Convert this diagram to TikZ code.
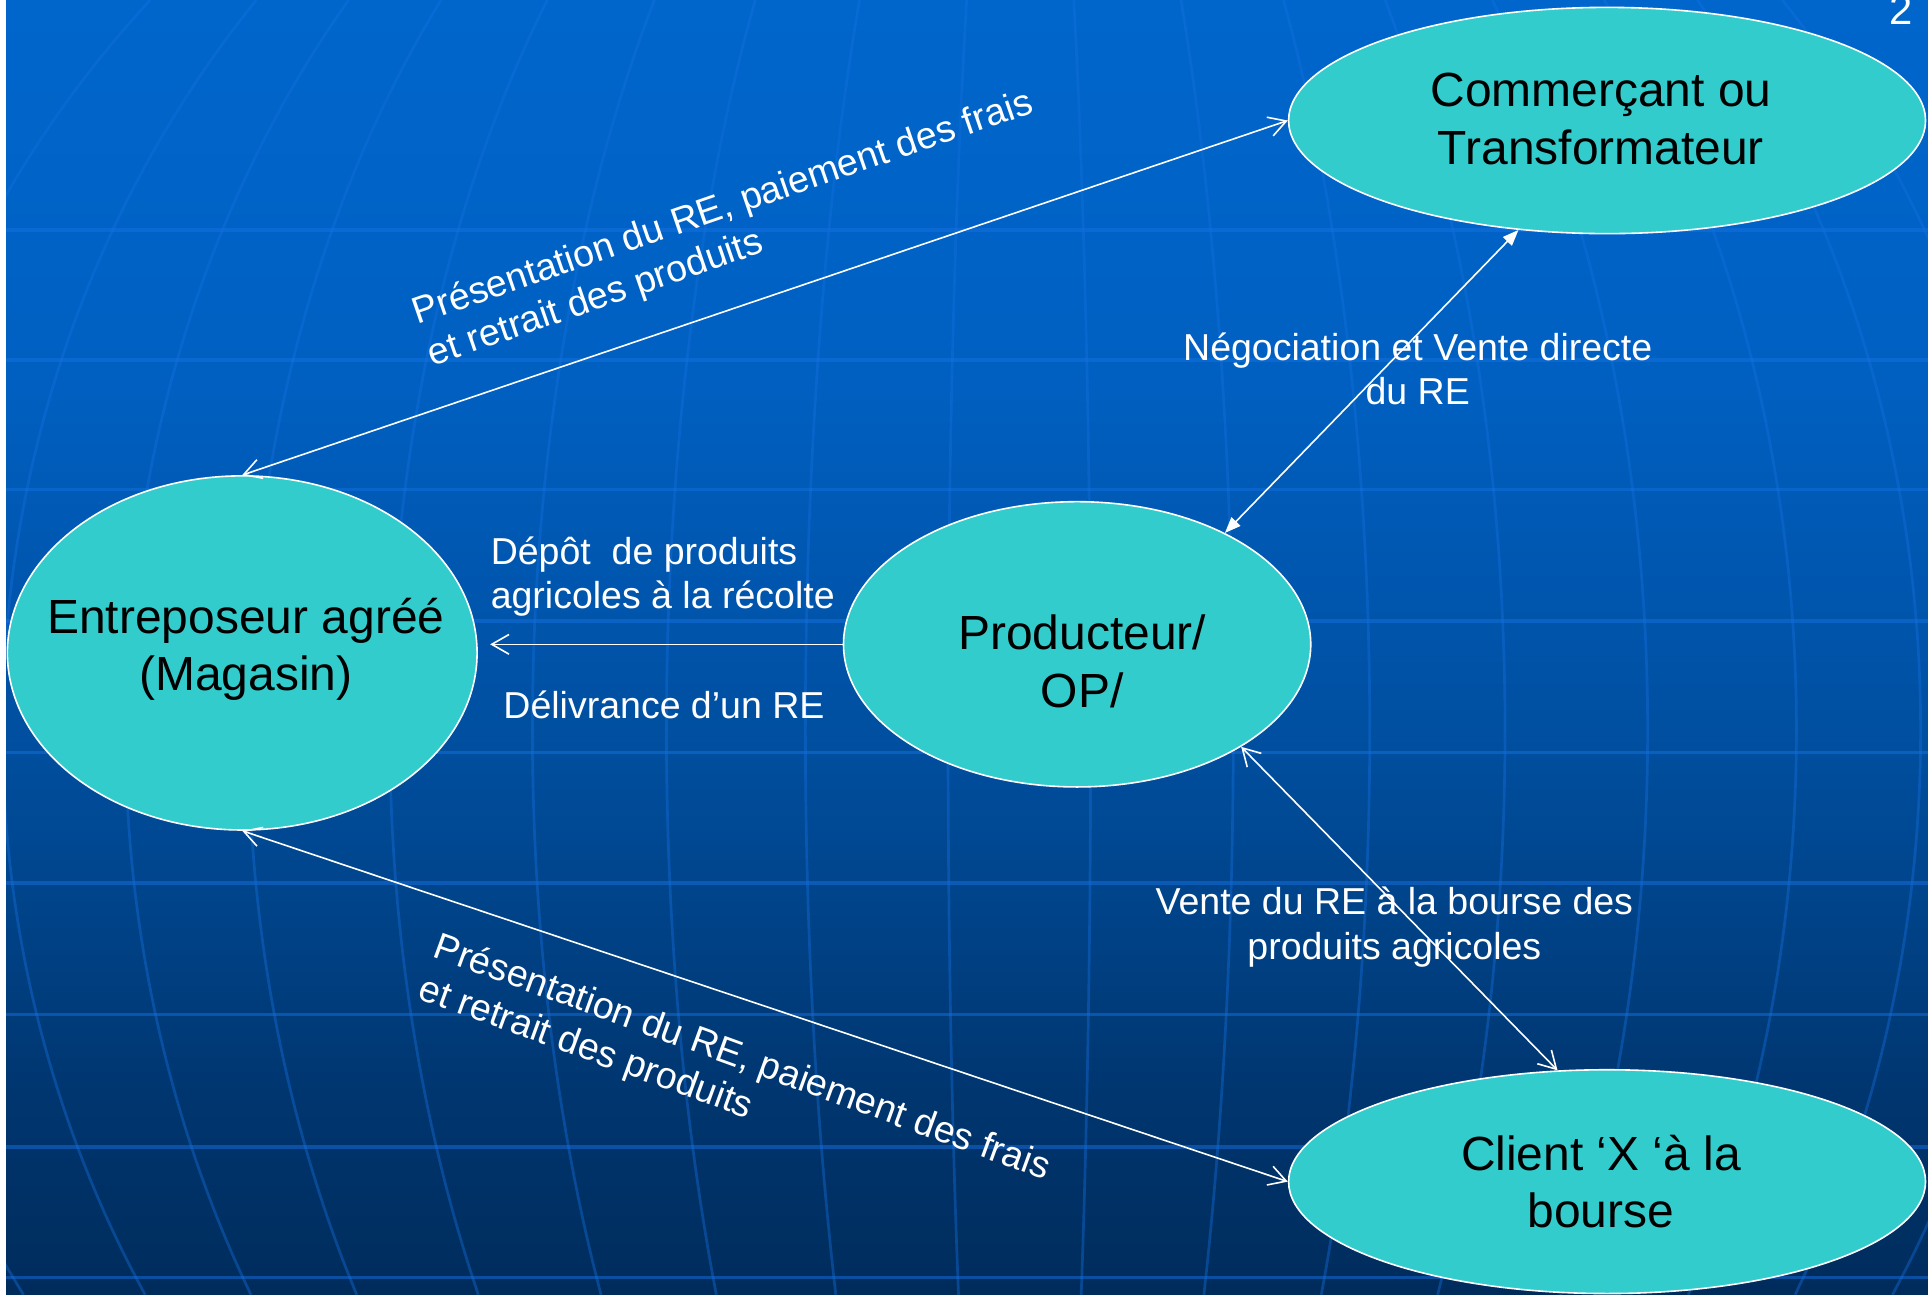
\documentclass[tikz,border=0pt]{standalone}
\usepackage{fontspec}
\setmainfont{Liberation Sans}
\usetikzlibrary{arrows.meta,shapes.geometric}
\definecolor{turq}{HTML}{33CCCC}
\definecolor{bgA}{HTML}{002C5C}
\definecolor{bgB}{HTML}{00356E}
\definecolor{bgC}{HTML}{004FA0}
\definecolor{bgD}{HTML}{0060C2}
\definecolor{bgE}{HTML}{0066CC}
\definecolor{gridcol}{HTML}{1570E0}
\pgfdeclareverticalshading{bgshade}{100bp}{color(0bp)=(bgA); color(25bp)=(bgA); color(32.3bp)=(bgB); color(46.5bp)=(bgC); color(60.8bp)=(bgD); color(75bp)=(bgE); color(100bp)=(bgE)}
\begin{document}
\begin{tikzpicture}[x=1pt,y=-1pt,
  ell/.style={ellipse, draw=white, line width=1.3pt, fill=turq, inner sep=0pt},
  mainlbl/.style={text=black, align=center, font=\fontsize{39}{47}\selectfont},
  edgelbl/.style={text=white, font=\fontsize{30.5}{36}\selectfont},
  conn/.style={draw=white, line width=1.3pt},
  barb/.tip={Straight Barb[length=14pt,width=16pt]},
  tri/.tip={Triangle[length=13pt,width=10pt]},
  gridline/.style={draw=gridcol, opacity=0.4, line width=2.2pt},
  hgridline/.style={draw=gridcol, opacity=0.5, line width=3pt}]
\useasboundingbox (0,0) rectangle (1568,1053);
\clip (0,0) rectangle (1568,1053);
\fill[white] (0,0) rectangle (1568,1053);
\shade[shading=bgshade] (5,0) rectangle (1568,1053);
% background globe grid
\begin{scope}
\clip (5,0) rectangle (1568,1053);
\foreach \yy in {187,293,398,505,612,718,825,933,1039}
  \draw[hgridline] (5,\yy) -- (1568,\yy);
\foreach \aa in {-945,-830,-730,-630,-515,-399,-290,-177,-61,55,171,282,392,508,629,730,822}
  \draw[gridline] plot[domain=0:1053, samples=40, smooth] ({832+\aa*sqrt(1-((\x-594)/900)^2)}, \x);
\end{scope}
% ellipses
\node[ell, minimum width=518pt, minimum height=184pt] (comm) at (1307,98) {};
\node[ell, minimum width=382pt, minimum height=288pt] (ent) at (197,531) {};
\node[ell, minimum width=380pt, minimum height=232pt] (prod) at (876,524) {};
\node[ell, minimum width=518pt, minimum height=182pt] (client) at (1307,961) {};
% main labels
\node[mainlbl] (commT) at (1302,97) {Commerçant ou\\Transformateur};
\node[mainlbl] (entT) at (200,528) {Entreposeur agréé\\(Magasin)};
\node[mainlbl] (prodT) at (880,538) {Producteur/\\OP/};
\node[mainlbl] (clientT) at (1302,961) {Client ‘X ‘à la\\bourse};
% edge labels
\node[edgelbl, align=left, rotate=19] (presA) at (594,187) {Présentation du RE, paiement des frais\\et retrait des produits};
\node[edgelbl, align=left, rotate=-20] (presB) at (597,878) {Présentation du RE, paiement des frais\\et retrait des produits};
\node[edgelbl, align=center] (negoT) at (1153,300) {Négociation et Vente directe\\du RE};
\node[edgelbl, align=left] (depotT) at (539,469) {Dépôt\ \ de produits\\agricoles à la récolte};
\node[edgelbl] (delivT) at (540,573) {Délivrance d’un RE};
\node[edgelbl, align=center] (venteT) at (1134,754) {Vente du RE à la bourse des\\produits agricoles};
\node[text=white, font=\fontsize{34}{40}\selectfont, anchor=base] (pg) at (1546,20) {2};
% connectors
\draw[conn, barb-barb] (ent.north) -- (comm.west);
\draw[conn, barb-barb] (ent.south) -- (client.west);
\draw[conn, -barb, shorten >=10pt] (prod.west) -- (prod.west -| ent.east);
\draw[conn, tri-tri] (prod.37) -- (comm.231);
\draw[conn, barb-barb] (prod.328) -- (client.114);
\end{tikzpicture}
\end{document}
